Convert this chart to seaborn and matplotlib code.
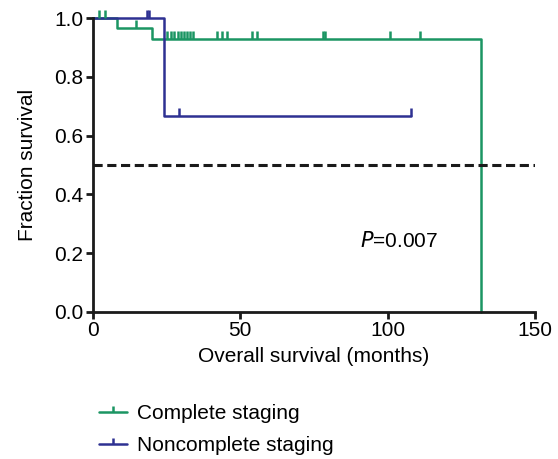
import numpy as np
import pandas as pd
import seaborn as sns
import matplotlib.pyplot as plt
from matplotlib.path import Path
from matplotlib.lines import Line2D

# Kaplan-Meier steps (months, fraction surviving)
complete_times = [0, 8.0, 20.0, 131.7, 131.7]
complete_surv = [1.0, 0.966, 0.931, 0.931, 0.0]
noncomplete_times = [0, 24.2, 107.9]
noncomplete_surv = [1.0, 0.667, 0.667]

# censored observations
complete_cens_t = [2.2, 4.1, 14.6, 25.1, 26.5, 27.5, 28.8, 29.9, 30.9, 31.9, 32.9, 33.9,
                   42.1, 43.8, 45.5, 53.9, 55.6, 78.0, 78.7, 100.8, 111.0]
complete_cens_s = [1.0, 1.0, 0.966] + [0.931] * 18
noncomplete_cens_t = [18.2, 19.1, 29.2, 107.9]
noncomplete_cens_s = [1.0, 1.0, 0.667, 0.667]

labels = ['Complete staging', 'Noncomplete staging']
colors = ['#1b9563', '#2e3192']

sns.set_style('ticks', {'axes.edgecolor': '#1a1a1a', 'text.color': 'black',
                        'xtick.color': '#1a1a1a', 'ytick.color': '#1a1a1a',
                        'axes.labelcolor': 'black'})
plt.rcParams['font.family'] = ['Liberation Sans', 'DejaVu Sans']

fig = plt.figure(figsize=(5.58, 4.59), dpi=100)
ax = fig.add_axes([93 / 558, 1 - 311.7 / 459, (535 - 93) / 558, (311.7 - 18.3) / 459])

tick = Path([(0, 0), (0, 1)], [Path.MOVETO, Path.LINETO])

curves = [(complete_times, complete_surv, complete_cens_t, complete_cens_s),
          (noncomplete_times, noncomplete_surv, noncomplete_cens_t, noncomplete_cens_s)]
for (t, s, ct, cs), col in zip(curves, colors):
    df = pd.DataFrame({'t': t, 's': s})
    sns.lineplot(data=df, x='t', y='s', drawstyle='steps-post', color=col,
                 lw=1.8, ax=ax, clip_on=False, sort=False, estimator=None)
    cdf = pd.DataFrame({'t': ct, 's': cs})
    sns.scatterplot(data=cdf, x='t', y='s', marker=tick, s=140, color=col,
                    edgecolor=col, linewidth=1.8, ax=ax, clip_on=False, zorder=3)

ax.axhline(0.5, color='#1a1a1a', ls=(0, (3.0, 1.5)), lw=2.2)

ax.text(90.5, 0.24, '$P$=0.007', fontsize=15, va='center', ha='left', color='black')

ax.set_xlim(0, 150)
ax.set_ylim(0, 1.0)
ax.set_xticks([0, 50, 100, 150])
ax.set_yticks(np.arange(0, 1.01, 0.2))
ax.set_yticklabels(['0.0', '0.2', '0.4', '0.6', '0.8', '1.0'])
ax.tick_params(labelsize=15, length=5, width=2.0, direction='out', pad=2,
               labelcolor='black')
for sp in ['left', 'bottom']:
    ax.spines[sp].set_linewidth(2.0)
sns.despine(ax=ax)

ax.set_xlabel('Overall survival (months)', fontsize=15, labelpad=5)
ax.set_ylabel('Fraction survival', fontsize=15, labelpad=12)

handles = [Line2D([0], [0], color=c, lw=1.8, marker=tick, markersize=8,
                  markeredgewidth=1.8) for c in colors]
fig.legend(handles, labels, loc='upper left', bbox_to_anchor=(91 / 558, 1 - 396 / 459),
           frameon=False, fontsize=15, handlelength=1.35, handletextpad=0.45,
           labelspacing=0.6, borderaxespad=0)

fig.savefig('out.png', dpi=100)
